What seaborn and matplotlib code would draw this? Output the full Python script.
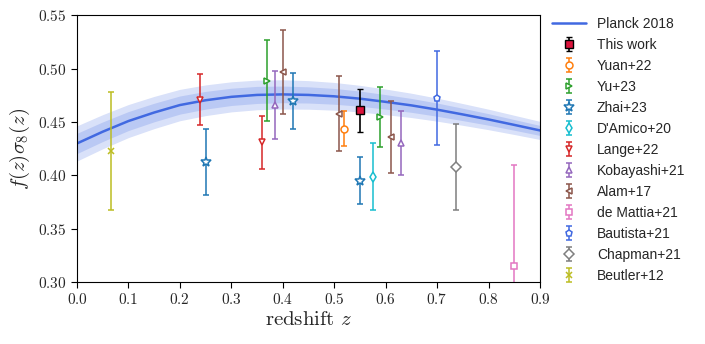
import numpy as np
import pandas as pd
import seaborn as sns
from matplotlib import pyplot as plt
from matplotlib.ticker import FuncFormatter

# Planck 2018 prediction
planck_z = [0.00, 0.05, 0.10, 0.15, 0.20, 0.25, 0.30, 0.35, 0.40, 0.45,
            0.50, 0.55, 0.60, 0.65, 0.70, 0.75, 0.80, 0.85, 0.90]
planck_fs8 = [0.430, 0.441, 0.451, 0.459, 0.466, 0.4705, 0.4737, 0.4755, 0.476, 0.4755,
              0.4742, 0.472, 0.469, 0.4657, 0.4617, 0.4572, 0.4525, 0.4474, 0.4422]
planck_err1 = [0.0095, 0.0092, 0.0089, 0.0087, 0.0085, 0.0083, 0.0081, 0.0080, 0.0078, 0.0076,
               0.0074, 0.0071, 0.0068, 0.0065, 0.0062, 0.0058, 0.0054, 0.0050, 0.0047]
planck_err2 = [0.0165, 0.0160, 0.0155, 0.0151, 0.0147, 0.0144, 0.0141, 0.0139, 0.0137, 0.0134,
               0.0130, 0.0125, 0.0120, 0.0114, 0.0108, 0.0102, 0.0096, 0.0090, 0.0085]

# measurements
this_z, this_fs8, this_err = [0.55], [0.461], [0.020]
yuan_z, yuan_fs8, yuan_err = [0.52], [0.444], [0.016]
yu_z, yu_fs8, yu_err = [0.37, 0.59], [0.489, 0.455], [0.038, 0.028]
zhai_z, zhai_fs8, zhai_err = [0.25, 0.42, 0.55], [0.413, 0.470, 0.395], [0.031, 0.026, 0.022]
damico_z, damico_fs8, damico_err = [0.575], [0.399], [0.031]
lange_z, lange_fs8, lange_err = [0.24, 0.36], [0.471, 0.431], [0.024, 0.025]
koba_z, koba_fs8, koba_err = [0.385, 0.63], [0.466, 0.430], [0.032, 0.030]
alam_z, alam_fs8, alam_err = [0.40, 0.51, 0.61], [0.497, 0.458, 0.436], [0.039, 0.035, 0.034]
demattia_z, demattia_fs8, demattia_err = [0.85], [0.315], [0.095]
bautista_z, bautista_fs8, bautista_err = [0.70], [0.473], [0.044]
chapman_z, chapman_fs8, chapman_err = [0.737], [0.408], [0.040]
beutler_z, beutler_fs8, beutler_err = [0.067], [0.423], [0.055]

sns.set_theme(style='ticks')
plt.rcParams['font.family'] = ['Liberation Sans', 'DejaVu Sans']
plt.rcParams['mathtext.fontset'] = 'cm'

fig = plt.figure(figsize=(7.05, 3.44), dpi=100)
ax = fig.add_axes([0.1092, 0.180, 0.6567, 0.775])

planck = pd.DataFrame({'z': planck_z, 'fs8': planck_fs8})
e1 = np.array(planck_err1)
e2 = np.array(planck_err2)
f = np.array(planck_fs8)
ax.fill_between(planck_z, f - e2, f + e2, color='royalblue', alpha=0.2, lw=0)
ax.fill_between(planck_z, f - e1, f + e1, color='royalblue', alpha=0.2, lw=0)
sns.lineplot(data=planck, x='z', y='fs8', color='royalblue', lw=1.8, ax=ax, label='Planck 2018')

ax.errorbar(this_z, this_fs8, yerr=this_err, fmt='s', color='black', mfc='crimson', mec='black',
            ms=6, mew=1.0, capsize=2, lw=1.2, capthick=1.2, label='This work', zorder=5)

measurements = [
    ('Yuan+22', yuan_z, yuan_fs8, yuan_err, 'o', 'tab:orange', 5),
    ('Yu+23', yu_z, yu_fs8, yu_err, '>', 'tab:green', 5),
    ('Zhai+23', zhai_z, zhai_fs8, zhai_err, '*', 'tab:blue', 7.5),
    ("D'Amico+20", damico_z, damico_fs8, damico_err, 'd', 'tab:cyan', 5.5),
    ('Lange+22', lange_z, lange_fs8, lange_err, 'v', 'tab:red', 5),
    ('Kobayashi+21', koba_z, koba_fs8, koba_err, '^', 'tab:purple', 5),
    ('Alam+17', alam_z, alam_fs8, alam_err, '<', 'tab:brown', 5),
    ('de Mattia+21', demattia_z, demattia_fs8, demattia_err, 's', 'tab:pink', 5),
    ('Bautista+21', bautista_z, bautista_fs8, bautista_err, 'p', 'royalblue', 5),
    ('Chapman+21', chapman_z, chapman_fs8, chapman_err, 'D', 'tab:gray', 5),
    ('Beutler+12', beutler_z, beutler_fs8, beutler_err, 'x', 'tab:olive', 5),
]
for label, zz, ff, ee, mk, col, size in measurements:
    ax.errorbar(zz, ff, yerr=ee, fmt=mk, color=col, mfc='white', mec=col, ms=size, mew=1.1,
                capsize=2, lw=1.1, capthick=1.1, label=label)

ax.set_xlim(0.0, 0.9)
ax.set_ylim(0.30, 0.55)
ax.set_xticks(np.arange(0, 0.91, 0.1))
ax.set_yticks(np.arange(0.30, 0.551, 0.05))
ax.xaxis.set_major_formatter(FuncFormatter(lambda v, p: f'${v:.1f}$'))
ax.yaxis.set_major_formatter(FuncFormatter(lambda v, p: f'${v:.2f}$'))
ax.tick_params(axis='both', labelsize=11, direction='out', length=4, width=0.8, color='black')
for sp in ax.spines.values():
    sp.set_visible(True)
    sp.set_color('black')
    sp.set_linewidth(0.8)

ax.set_xlabel(r'$\mathrm{redshift}\ z$', fontsize=15, labelpad=2)
ax.set_ylabel(r'$f(z)\sigma_8(z)$', fontsize=15, labelpad=4)

ax.legend(loc='upper left', bbox_to_anchor=(1.0, 1.04), frameon=False, fontsize=10,
          labelspacing=0.5, handlelength=2.4, handletextpad=0.8)

plt.savefig('out.png', dpi=100)
